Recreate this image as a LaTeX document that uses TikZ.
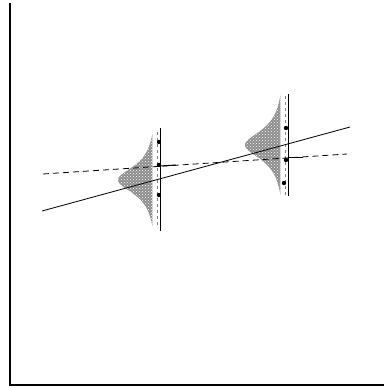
\documentclass[tikz,border=0pt]{standalone}
\usepackage{tikz}
\usetikzlibrary{patterns}

\begin{document}
\begin{tikzpicture}[x=1pt,y=-1pt,line width=0.8pt,
  density/.style={fill=gray!90},
  dotted grid/.style={pattern=crosshatch dots,pattern color=white},
  obs/.style={fill=black}]
  \useasboundingbox (0,0) rectangle (384,388);
  \draw[line width=1.1pt] (10,3) -- (10,385) -- (384,385);
  % first distribution
  \fill[density] plot[domain=-46:46,samples=80,smooth] ({157-39/(1+(\x/17)^2)},{180+\x}) -- cycle;
  \fill[dotted grid] plot[domain=-46:46,samples=80,smooth] ({157-39/(1+(\x/17)^2)},{180+\x}) -- cycle;
  \draw[gray,dashed,line width=0.7pt] (157,132) -- (157,228);
  \draw[line width=1pt] (160,128) -- (160,231);
  % second distribution
  \fill[density] plot[domain=-50:50,samples=80,smooth] ({285-40/(1+(\x/18)^2)},{145+\x}) -- cycle;
  \fill[dotted grid] plot[domain=-50:50,samples=80,smooth] ({285-40/(1+(\x/18)^2)},{145+\x}) -- cycle;
  \draw[gray,dashed,line width=0.7pt] (285,96) -- (285,195);
  \draw[line width=1pt] (288,94) -- (288,196);
  % fitted lines
  \draw (42,211) -- (350,127);
  \draw[dash pattern=on 6pt off 4pt] (43,174) -- (347,154);
  \draw[line width=1pt] (160,166) -- (176,165);
  \draw[line width=1pt] (288,157) -- (303,157);
  \foreach \p in {(159,142),(159,165),(159,195),(286,128),(286,160),(284,183)}
    \fill[obs] \p circle (2.2);
\end{tikzpicture}
\end{document}
